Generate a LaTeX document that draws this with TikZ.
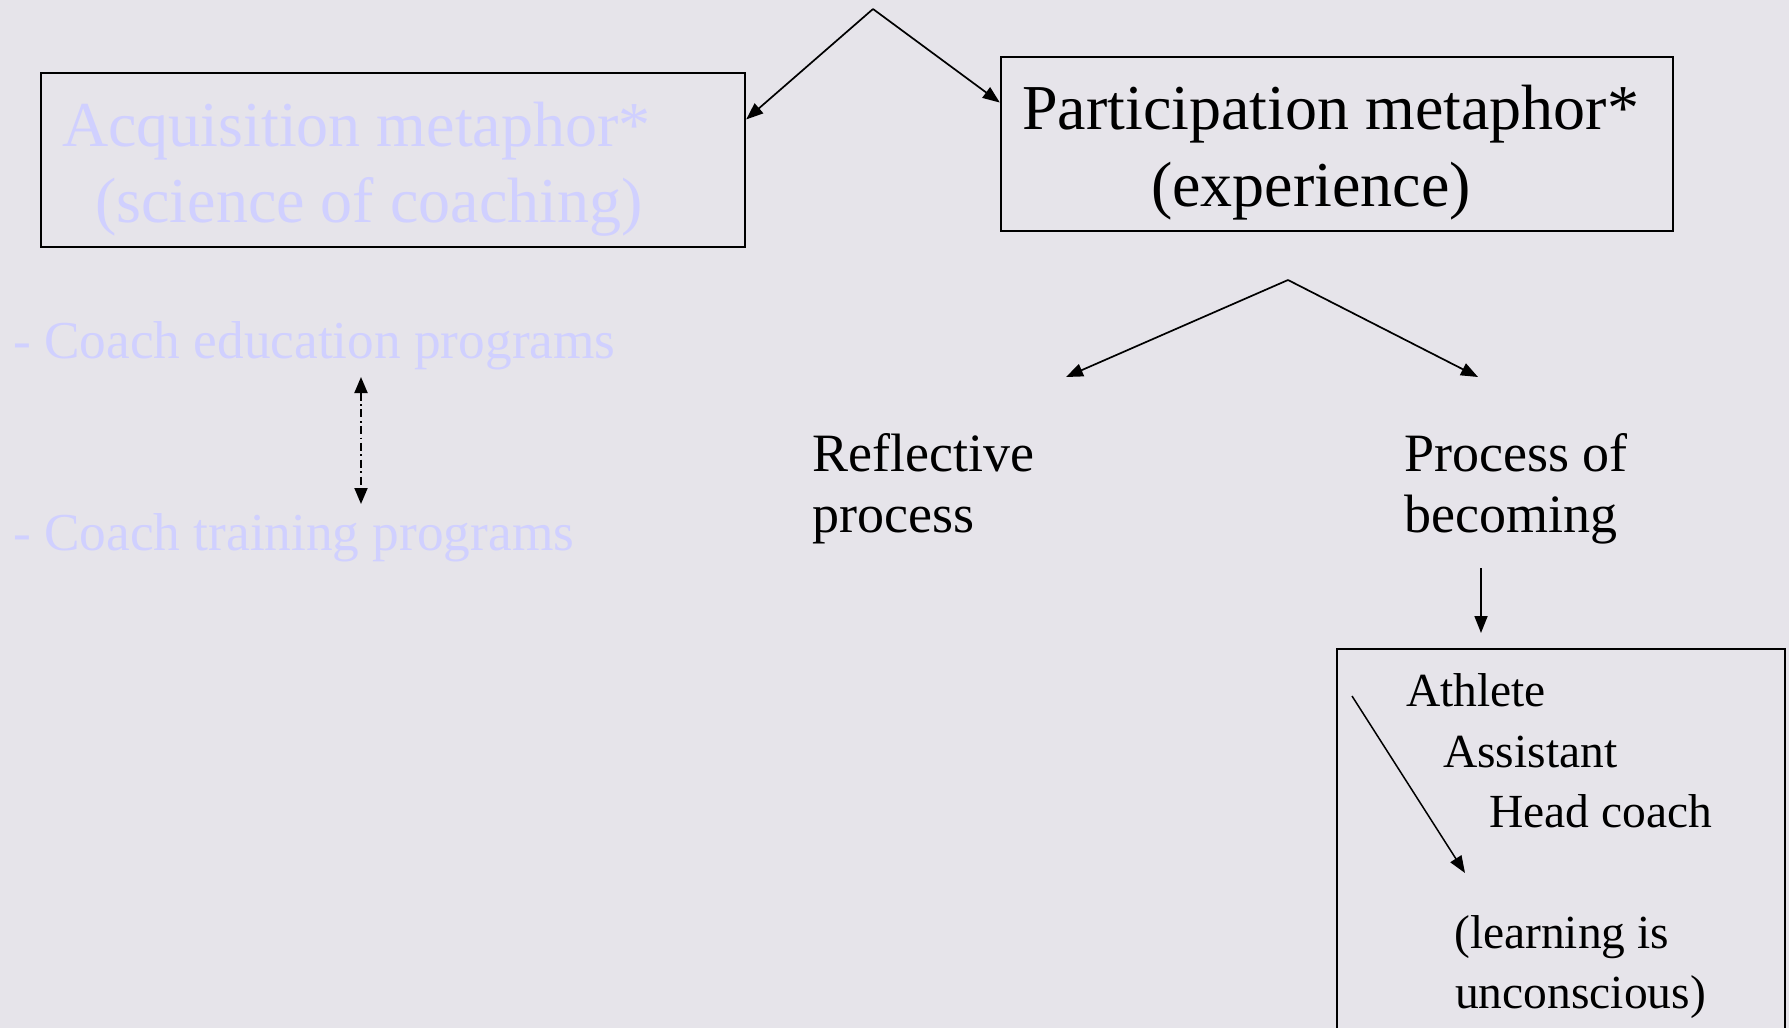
\documentclass[tikz,border=0pt]{standalone}
\usepackage{fontspec}
\setmainfont{Liberation Serif}
\usetikzlibrary{arrows.meta,calc}
\definecolor{bgcol}{RGB}{230,228,234}
\definecolor{faint}{RGB}{208,208,255}
\tikzset{
  boxnode/.style={draw=black,line width=2.4pt,rectangle,inner sep=0pt},
  con/.style={line width=1.7pt,-{Triangle[length=17pt,width=13pt]}},
  dotcon/.style={line width=1.9pt,dash pattern=on 8pt off 3.5pt on 1.8pt off 3.5pt,
     {Triangle[length=16pt,width=13pt]}-{Triangle[length=16pt,width=13pt]}},
  txt/.style={inner sep=0pt,anchor=base west},
  big/.style={font=\fontsize{64}{64}\selectfont},
  mid/.style={font=\fontsize{53.3}{53.3}\selectfont},
  med/.style={font=\fontsize{54}{54}\selectfont},
  sml/.style={font=\fontsize{47.5}{47.5}\selectfont},
}
\begin{document}
\begin{tikzpicture}[x=1pt,y=-1pt]
\fill[bgcol] (0,0) rectangle (1789,1028);
\useasboundingbox (0,0) rectangle (1789,1028);
\clip (0,0) rectangle (1789,1028);

% boxes
\node[boxnode,minimum width=704pt,minimum height=174pt] (acq) at (393,160) {};
\node[boxnode,minimum width=672pt,minimum height=174pt] (par) at (1337,144) {};
\node[boxnode,minimum width=448pt,minimum height=400pt] (path) at (1561,849) {};

% texts in boxes
\node[txt,big,text=faint] (acq1) at (62,146) {Acquisition metaphor*};
\node[txt,big,text=faint] (acq2) at (95,222) {(science of coaching)};
\node[txt,big] (par1) at (1022,129) {Participation metaphor*};
\node[txt,big] (par2) at (1151,206) {(experience)};

% left lists
\node[txt,mid,text=faint] (edu) at (13,358) {- Coach education programs};
\node[txt,mid,text=faint] (trn) at (13,550) {- Coach training programs};

% middle texts
\node[txt,med] (refl1) at (812,471) {Reflective};
\node[txt,med] (refl2) at (812,532) {process};
\node[txt,med] (proc1) at (1404,471) {Process of};
\node[txt,med] (proc2) at (1404,532) {becoming};

% path box texts
\node[txt,sml] (ath) at (1406,706) {Athlete};
\node[txt,sml] (asst) at (1443,767) {Assistant};
\node[txt,sml] (head) at (1489,827) {Head coach};
\node[txt,sml] (lrn1) at (1454,948) {(learning is};
\node[txt,sml] (lrn2) at (1455,1008) {unconscious)};

% coordinates for connectors
\coordinate (apexA) at (873,9);
\coordinate (apexB) at (1288,280);
\coordinate (reflTip) at (1066,377);
\coordinate (procTip) at (1478,377);
\coordinate (downStart) at (1481,568);
\coordinate (downTip) at (1481,633);
\coordinate (dotTop) at (361,377);
\coordinate (dotBot) at (361,504);
\coordinate (diagStart) at (1352,696);
\coordinate (diagTip) at (1465,873);

% connectors
\draw[con] (apexA) -- ($(acq.north east)!0.27!(acq.south east)$);
\draw[con] (apexA) -- ($(par.north west)!0.265!(par.south west)$);
\draw[con] (apexB) -- (reflTip);
\draw[con] (apexB) -- (procTip);
\draw[con] (downStart) -- (downTip);
\draw[dotcon] (dotTop) -- (dotBot);
\draw[con,line width=1.5pt] (diagStart) -- (diagTip);
\end{tikzpicture}
\end{document}
